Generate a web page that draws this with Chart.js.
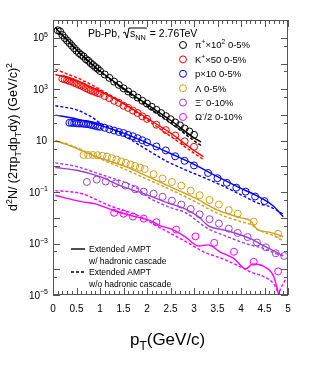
<!DOCTYPE html>
<html>
<head>
<meta charset="utf-8">
<script src="https://cdn.jsdelivr.net/npm/chart.js@4"></script>
<style>
html, body { margin: 0; padding: 0; background: #fff; }
</style>
</head>
<body>
<canvas id="myChart" width="315" height="366"></canvas>
<script>
// measured spectra (open circles)
const pionPt = [0.1,0.15,0.2,0.25,0.3,0.35,0.4,0.45,0.5,0.55,0.6,0.65,0.7,0.75,0.8,0.85,0.9,0.95,1.0,1.1,1.2,1.3,1.4,1.5,1.6,1.7,1.8,1.9,2.0,2.1,2.2,2.3,2.4,2.5,2.6,2.7,2.8,2.9,3.0];
const pionData = [2.0e5,1.8e5,1.3e5,1.0e5,7.9e4,6.3e4,5.0e4,4.0e4,3.2e4,2.6e4,2.2e4,1.9e4,1.5e4,1.3e4,1.05e4,8.9e3,7.4e3,6.3e3,5.2e3,3.8e3,2.8e3,2.0e3,1.5e3,1.1e3,830,630,480,360,280,210,160,120,91,69,52,40,30,23,17];

const kaonPt = [0.2,0.25,0.3,0.35,0.4,0.45,0.5,0.55,0.6,0.65,0.7,0.75,0.8,0.85,0.9,0.95,1.0,1.1,1.2,1.3,1.4,1.5,1.6,1.7,1.8,1.9,2.0,2.2,2.4,2.6,2.8,3.0];
const kaonData = [2.6e3,2.45e3,2.3e3,2.1e3,2.0e3,1.8e3,1.66e3,1.5e3,1.4e3,1.26e3,1.12e3,1.02e3,930,850,790,720,680,550,450,360,300,230,190,150,120,89,71,42,26,16,9.5,5.8];

const protonPt = [0.35,0.4,0.45,0.5,0.55,0.6,0.65,0.7,0.75,0.8,0.85,0.9,0.95,1.0,1.1,1.2,1.3,1.4,1.5,1.6,1.7,1.8,1.9,2.0,2.2,2.4,2.6,2.8,3.0,3.3,3.5,3.7,3.9,4.1,4.3,4.5];
const protonData = [50,50,49,48,47,47,46,45,44,42,40,38,36,35,32,28,25,22,20,17,15,12.6,10.5,8.7,6.0,4.2,2.5,1.66,1.1,0.56,0.35,0.23,0.15,0.105,0.068,0.045];

const lambdaPt = [0.65,0.75,0.85,0.95,1.05,1.15,1.25,1.35,1.45,1.55,1.65,1.75,1.85,1.95,2.14,2.33,2.53,2.73,2.93,3.12,3.33,3.53,3.74,3.93,4.27,4.79];
const lambdaData = [2.8,2.8,2.8,2.75,2.6,2.4,2.1,1.86,1.58,1.38,1.2,1.05,0.91,0.79,0.5,0.34,0.25,0.18,0.115,0.076,0.05,0.033,0.02,0.0145,0.0071,0.0024];

const xiPt = [0.72,0.93,1.12,1.33,1.54,1.75,1.93,2.14,2.33,2.53,2.73,2.93,3.12,3.33,3.53,3.74,3.93,4.14,4.34,4.53,4.74,4.92];
const xiData = [0.25,0.31,0.26,0.22,0.18,0.13,0.105,0.087,0.066,0.047,0.033,0.022,0.0138,0.0089,0.006,0.0038,0.0026,0.0018,0.0011,0.00072,0.00042,0.00033];

const omegaPt = [1.3,1.5,1.7,1.93,2.2,2.62,3.03,3.43,3.85,4.27,4.79];
const omegaData = [0.0158,0.0145,0.0112,0.0093,0.0068,0.0035,0.0019,0.00107,0.00048,0.000195,0.000083];

// Extended AMPT, solid = with hadronic cascade, dashed = without
const pionModelPt = [0.05,0.1,0.3,0.5,0.75,1.0,1.5,2.0,2.5,3.0,3.15];
const pionSolid = [2.6e5,2.0e5,8.5e4,3.5e4,1.3e4,5.2e3,1.1e3,260,63,13,8.9];
const pionDashed = [2.6e5,2.0e5,8.3e4,3.3e4,1.2e4,4.8e3,1.0e3,220,50,10,6.6];

const kaonModelPt = [0.05,0.3,0.6,1.0,1.5,2.0,2.5,3.0,3.2];
const kaonSolid = [3.8e3,2.8e3,1.8e3,830,280,76,20,4.2,2.4];
const kaonDashed = [6.0e3,4.0e3,2.4e3,1.0e3,280,66,15,3.3,1.9];

const protonSolidPt = [0.05,0.5,1.0,1.5,2.0,2.5,3.0,3.5,4.0,4.3,4.5,4.7,4.9];
const protonSolid = [100,71,40,20,8.3,3.2,1.2,0.4,0.14,0.079,0.05,0.028,0.011];
const protonDashedPt = [0.05,0.5,0.8,1.0,1.3,1.6,2.0,2.4,2.8,3.2,3.6,4.0,4.4,4.6,4.9];
const protonDashed = [230,160,89,50,26,12.6,4.5,1.66,0.76,0.38,0.18,0.079,0.035,0.028,0.014];

const lambdaSolidPt = [0.05,0.3,0.6,1.0,1.5,2.0,2.5,3.0,3.5,4.0,4.2,4.35,4.6,4.9];
const lambdaSolid = [10,7.1,4.2,2.1,1.05,0.42,0.16,0.063,0.02,0.01,0.0079,0.0035,0.0028,0.0019];
const lambdaDashedPt = [0.05,0.3,0.6,1.0,1.5,2.0,2.5,3.0,3.5,4.0,4.2,4.4,4.7,4.9];
const lambdaDashed = [10,7.6,4.5,2.0,0.83,0.32,0.126,0.045,0.015,0.0071,0.0056,0.0032,0.002,0.00126];

const xiSolidPt = [0.05,0.5,1.0,1.37,1.5,2.0,2.5,2.8,3.1,3.3,3.7,4.2,4.5,4.9];
const xiSolid = [0.91,0.71,0.4,0.2,0.16,0.079,0.035,0.023,0.011,0.005,0.0032,0.00155,0.00079,0.00033];
const xiDashedPt = [0.05,0.5,1.0,1.5,1.75,2.05,2.5,2.8,3.3,3.7,4.1,4.5,4.75,4.92];
const xiDashed = [1.38,1.0,0.5,0.25,0.16,0.06,0.025,0.0166,0.0038,0.0019,0.001,0.00063,0.0004,0.00033];

const omegaSolidPt = [0.05,0.6,0.9,1.3,1.75,2.07,2.3,2.5,2.8,3.1,3.3,3.55,3.85,4.1,4.25,4.5,4.7,4.83];
const omegaSolid = [0.074,0.043,0.035,0.019,0.0112,0.0078,0.0048,0.0038,0.0019,0.00081,0.00089,0.00048,0.00026,0.000105,0.00016,0.000126,0.00005,0.0000063];
const omegaDashedPt = [0.05,0.6,1.2,1.8,2.1,2.5,2.9,3.2,3.6,3.95,4.2,4.5,4.7,4.8,4.87,4.95];
const omegaDashed = [0.115,0.089,0.03,0.0126,0.0063,0.0025,0.001,0.00048,0.00026,0.000135,0.000079,0.00005,0.000027,0.0000132,0.0000224,0.000042];

const species = ['pion', 'kaon', 'proton', 'lambda', 'xi', 'omega'];
const colors = ['#000000', '#ff0000', '#0000ff', '#d1a01c', '#a23cd6', '#ff00ff'];
const yTickExp = [5, 3, 1, -1, -3, -5];

const FONT = '"Liberation Sans", Arial, sans-serif';

function pts(xs, ys) {
  return xs.map((x, i) => ({x: x, y: ys[i]}));
}

function markers(xs, ys, color) {
  return {data: pts(xs, ys), showLine: false, borderColor: color, backgroundColor: 'rgba(0,0,0,0)',
    pointRadius: 3.5, pointBorderWidth: 1, pointStyle: 'circle'};
}

function curve(xs, ys, color, dashed) {
  return {data: pts(xs, ys), showLine: true, borderColor: color, borderWidth: 1.4,
    borderDash: dashed ? [3, 2] : [], pointRadius: 0, fill: false, cubicInterpolationMode: 'monotone'};
}

const datasets = [
  curve(pionModelPt, pionSolid, colors[0], false),
  curve(pionModelPt, pionDashed, colors[0], true),
  curve(kaonModelPt, kaonSolid, colors[1], false),
  curve(kaonModelPt, kaonDashed, colors[1], true),
  curve(protonSolidPt, protonSolid, colors[2], false),
  curve(protonDashedPt, protonDashed, colors[2], true),
  curve(lambdaSolidPt, lambdaSolid, colors[3], false),
  curve(lambdaDashedPt, lambdaDashed, colors[3], true),
  curve(xiSolidPt, xiSolid, colors[4], false),
  curve(xiDashedPt, xiDashed, colors[4], true),
  curve(omegaSolidPt, omegaSolid, colors[5], false),
  curve(omegaDashedPt, omegaDashed, colors[5], true),
  markers(pionPt, pionData, colors[0]),
  markers(kaonPt, kaonData, colors[1]),
  markers(protonPt, protonData, colors[2]),
  markers(lambdaPt, lambdaData, colors[3]),
  markers(xiPt, xiData, colors[4]),
  markers(omegaPt, omegaData, colors[5])
];

// text with super/subscripts: parts = [[text, kind]], kind 1 = sup, -1 = sub
function rich(ctx, x, y, parts, size, align) {
  const fs = k => (k ? size * 0.7 : size);
  let w = 0;
  parts.forEach(p => { ctx.font = fs(p[1]) + 'px ' + FONT; w += ctx.measureText(p[0]).width; });
  let cx = align === 'right' ? x - w : align === 'center' ? x - w / 2 : x;
  ctx.textAlign = 'left';
  ctx.textBaseline = 'alphabetic';
  parts.forEach(p => {
    ctx.font = fs(p[1]) + 'px ' + FONT;
    const dy = p[1] === 1 ? -size * 0.42 : p[1] === -1 ? size * 0.28 : 0;
    ctx.fillText(p[0], cx, y + dy);
    cx += ctx.measureText(p[0]).width;
  });
  return w;
}

const decor = {
  id: 'decor',
  afterDraw(chart) {
    const ctx = chart.ctx;
    const a = chart.chartArea;
    const xs = chart.scales.x, ys = chart.scales.y;
    ctx.save();
    ctx.strokeStyle = '#555';
    ctx.lineWidth = 1;
    ctx.strokeRect(a.left + 0.5, a.top + 0.5, a.right - a.left - 1, a.bottom - a.top - 1);

    ctx.beginPath();
    for (let i = 0; i <= 50; i++) {
      const px = Math.round(xs.getPixelForValue(i / 10)) + 0.5;
      const len = i % 5 === 0 ? 7 : 4;
      ctx.moveTo(px, a.bottom); ctx.lineTo(px, a.bottom - len);
      ctx.moveTo(px, a.top); ctx.lineTo(px, a.top + len);
    }
    for (let e = -5; e <= 5; e++) {
      const py = Math.round(ys.getPixelForValue(Math.pow(10, e))) + 0.5;
      ctx.moveTo(a.left, py); ctx.lineTo(a.left + 7, py);
      ctx.moveTo(a.right, py); ctx.lineTo(a.right - 7, py);
      const pm = Math.round(ys.getPixelForValue(5 * Math.pow(10, e))) + 0.5;
      if (pm > a.top + 1) {
        ctx.moveTo(a.left, pm); ctx.lineTo(a.left + 4, pm);
        ctx.moveTo(a.right, pm); ctx.lineTo(a.right - 4, pm);
      }
    }
    ctx.stroke();

    ctx.fillStyle = '#000';
    // y tick labels
    yTickExp.forEach(e => {
      const py = ys.getPixelForValue(Math.pow(10, e)) + 3.5;
      if (e === 1) rich(ctx, 47, py, [['10', 0]], 10, 'right');
      else rich(ctx, 48, py, [['10', 0], [e < 0 ? '\u2212' + (-e) : String(e), 1]], 10, 'right');
    });

    // collision system
    ctx.font = '10.5px ' + FONT;
    let tx = 88, ty = 37;
    tx += rich(ctx, tx, ty, [['Pb-Pb, ', 0]], 10.5);
    ctx.beginPath();
    ctx.moveTo(tx, ty - 4); ctx.lineTo(tx + 2, ty - 5); ctx.lineTo(tx + 4, ty + 1); ctx.lineTo(tx + 6, ty - 9);
    const sx = tx + 6;
    tx += 7;
    tx += rich(ctx, tx, ty, [['s', 0], ['NN', -1]], 10.5);
    ctx.lineTo(tx + 1, ty - 9);
    ctx.strokeStyle = '#000';
    ctx.stroke();
    rich(ctx, tx + 1, ty, [[' = 2.76TeV', 0]], 10.5);

    // species legend
    const labels = [
      [['\u03c0', 0], ['+', 1], ['\u00d710', 0], ['2', 1], [' 0-5%', 0]],
      [['K', 0], ['+', 1], ['\u00d750 0-5%', 0]],
      [['p\u00d710 0-5%', 0]],
      [['\u039b 0-5%', 0]],
      [['\u039e', 0], ['-', 1], [' 0-10%', 0]],
      [['\u03a9', 0], ['-', 1], ['/2 0-10%', 0]]
    ];
    labels.forEach((parts, i) => {
      const cy = 45 + i * 14.4;
      ctx.beginPath();
      ctx.strokeStyle = colors[i];
      ctx.arc(183, cy, 3.5, 0, Math.PI * 2);
      ctx.stroke();
      ctx.fillStyle = '#000';
      rich(ctx, 195, cy + 3.4, parts, 9.5);
    });

    // model legend
    ctx.strokeStyle = '#000';
    ctx.lineWidth = 1.4;
    ctx.beginPath();
    ctx.moveTo(71, 249); ctx.lineTo(85, 249);
    ctx.stroke();
    ctx.setLineDash([3, 2]);
    ctx.beginPath();
    ctx.moveTo(71, 272); ctx.lineTo(85, 272);
    ctx.stroke();
    ctx.setLineDash([]);
    rich(ctx, 89, 252, [['Extended AMPT', 0]], 8.5);
    rich(ctx, 89, 264, [['w/ hadronic cascade', 0]], 8.5);
    rich(ctx, 89, 275, [['Extended AMPT', 0]], 8.5);
    rich(ctx, 89, 287, [['w/o hadronic cascade', 0]], 8.5);

    // axis titles
    rich(ctx, 130, 345, [['p', 0], ['T', -1], ['(GeV/c)', 0]], 17);
    ctx.translate(17, 137);
    ctx.rotate(-Math.PI / 2);
    rich(ctx, 0, 0, [['d', 0], ['2', 1], ['N/ (2\u03c0p', 0], ['T', -1], ['dp', 0], ['T', -1], ['dy) (GeV/c)', 0], ['2', 1]], 12.5, 'center');
    ctx.restore();
  }
};

const ctx = document.getElementById('myChart');

let myChart = new Chart(ctx, {
  type: 'line',
  data: { datasets: datasets },
  options: {
    responsive: false,
    animation: false,
    devicePixelRatio: 1,
    layout: { padding: { top: 20, right: 27, left: 0, bottom: 0 } },
    plugins: { legend: { display: false }, tooltip: { enabled: false } },
    scales: {
      x: {
        type: 'linear', min: 0, max: 5,
        grid: { display: false, drawTicks: false },
        border: { display: false },
        ticks: {
          stepSize: 0.5, padding: 8, color: '#000', maxRotation: 0, autoSkip: false,
          font: { family: FONT, size: 10 },
          callback: v => String(v)
        },
        afterFit: s => { s.height = 71; }
      },
      y: {
        type: 'logarithmic', min: 1e-5, max: 5e5,
        grid: { display: false, drawTicks: false },
        border: { display: false },
        ticks: { display: false },
        afterFit: s => { s.width = 53; }
      }
    }
  },
  plugins: [decor]
});
</script>
</body>
</html>
